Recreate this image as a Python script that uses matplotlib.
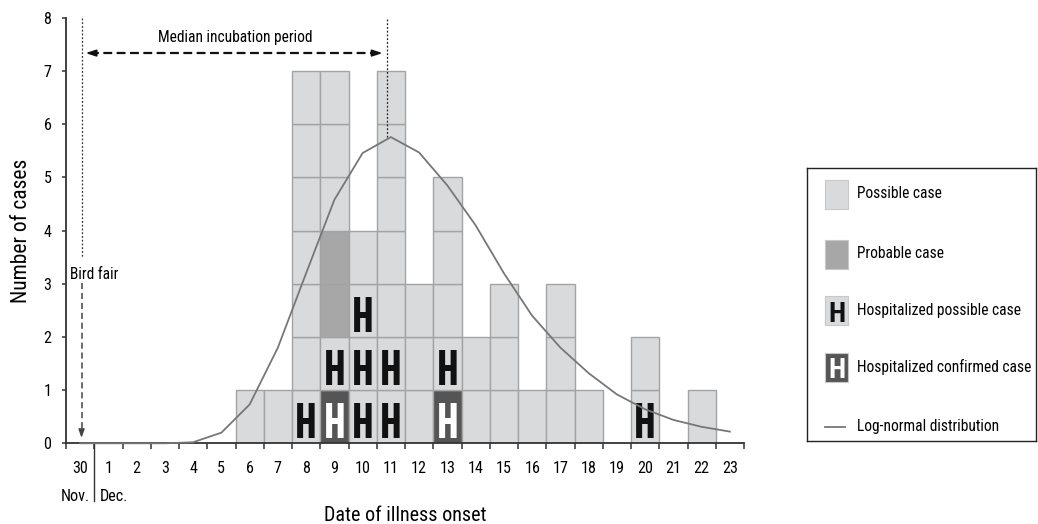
import matplotlib
matplotlib.use('Agg')
import matplotlib.pyplot as plt
from matplotlib.patches import Rectangle
import matplotlib.transforms as mtrans

# ---------------- data ----------------
days = ['30', '1', '2', '3', '4', '5', '6', '7', '8', '9', '10', '11',
        '12', '13', '14', '15', '16', '17', '18', '19', '20', '21', '22', '23']
# stacked from bottom: hospitalized confirmed, hospitalized possible, probable, possible
hosp_confirmed = [0, 0, 0, 0, 0, 0, 0, 0, 0, 1, 0, 0, 0, 1, 0, 0, 0, 0, 0, 0, 0, 0, 0, 0]
hosp_possible  = [0, 0, 0, 0, 0, 0, 0, 0, 1, 1, 3, 2, 0, 1, 0, 0, 0, 0, 0, 0, 1, 0, 0, 0]
probable       = [0, 0, 0, 0, 0, 0, 0, 0, 0, 2, 0, 0, 0, 0, 0, 0, 0, 0, 0, 0, 0, 0, 0, 0]
possible       = [0, 0, 0, 0, 0, 0, 1, 1, 6, 3, 1, 5, 3, 3, 2, 3, 1, 3, 1, 0, 1, 0, 1, 0]
lognormal      = [0.0, 0.0, 0.0, 0.0, 0.02, 0.20, 0.73, 1.80, 3.20, 4.58, 5.46, 5.76,
                  5.47, 4.85, 4.10, 3.20, 2.40, 1.80, 1.32, 0.92, 0.64, 0.44, 0.31, 0.22]
y_ticks = [0, 1, 2, 3, 4, 5, 6, 7, 8]
bird_fair_pos = 0.55      # position of bird fair (day 30)
median_onset_pos = 11.35  # median onset position

# ---------------- fonts ----------------
FONTS = ['Roboto Condensed', 'Archivo Narrow', 'Liberation Sans', 'DejaVu Sans']
HFONTS = ['Saira ExtraCondensed', 'Sofia Sans Extra Condensed', 'Fira Sans Extra Condensed',
          'Roboto Condensed', 'Liberation Sans', 'DejaVu Sans']
plt.rcParams['font.family'] = FONTS

C_POSS = '#d9dadc'
C_PROB = '#a7a7a7'
C_CONF = '#555555'
C_EDGE = '#a3a3a3'
C_AX = '#333333'
FS = 11.2     # annotation / legend text
FT = 11.6     # tick labels

fig = plt.figure(figsize=(10.38, 5.24), dpi=100)
ax = fig.add_axes([66 / 1038, 1 - 443.3 / 524, (744 - 66) / 1038, (443.3 - 18) / 524])

# ---------------- stacked unit cells ----------------
layers = [(hosp_confirmed, C_CONF, 'white'),
          (hosp_possible, C_POSS, '#111111'),
          (probable, C_PROB, None),
          (possible, C_POSS, None)]
for i in range(len(days)):
    bottom = 0
    for counts, fc, hcol in layers:
        for _ in range(counts[i]):
            ax.bar(i + 0.5, 1, bottom=bottom, width=1, color=fc,
                   edgecolor=C_EDGE, linewidth=1.0, zorder=2)
            if hcol is not None:
                ax.text(i + 0.5, bottom + 0.45, 'H', ha='center', va='center_baseline',
                        fontsize=36, fontweight='bold', color=hcol,
                        family=HFONTS, zorder=4)
            bottom += 1

# ---------------- log-normal curve ----------------
xs = [i + 0.5 for i in range(len(days))]
ax.plot(xs, lognormal, color='#777777', lw=1.3, zorder=5, clip_on=False)

# ---------------- axes ----------------
ax.set_xlim(0, len(days))
ax.set_ylim(0, 8)
for s in ['top', 'right']:
    ax.spines[s].set_visible(False)
for s in ['left', 'bottom']:
    ax.spines[s].set_color(C_AX)
    ax.spines[s].set_linewidth(1.3)
ax.set_yticks(y_ticks)
ax.set_yticklabels([str(v) for v in y_ticks])
ax.tick_params(axis='y', direction='out', length=3, width=1.1, color=C_AX,
               pad=7.5, labelsize=FT)
ax.set_xticks(range(len(days) + 1))
ax.set_xticklabels([])
ax.set_xticks(xs, minor=True)
ax.set_xticklabels(days, minor=True)
ax.tick_params(axis='x', which='major', direction='out', length=4, width=1.1, color=C_AX)
ax.tick_params(axis='x', which='minor', length=0, pad=12.5, labelsize=FT)

ax.set_ylabel('Number of cases', fontsize=15.5, labelpad=8)
ax.text(0.50, -0.17, 'Date of illness onset', transform=ax.transAxes,
        ha='center', va='center', fontsize=14.5)

# Nov / Dec separator
tr = mtrans.blended_transform_factory(ax.transData, ax.transAxes)
ax.plot([1, 1], [0, -0.135], transform=tr, color=C_AX, lw=1.0, clip_on=False)
ax.text(0.85, -0.125, 'Nov.', transform=tr, ha='right', va='center', fontsize=FT)
ax.text(1.2, -0.125, 'Dec.', transform=tr, ha='left', va='center', fontsize=FT)

# ---------------- annotations ----------------
ax.plot([bird_fair_pos, bird_fair_pos], [8, 3.5], color='#333333', lw=0.9,
        ls=(0, (1.5, 1.5)), zorder=6, clip_on=False)
ax.plot([bird_fair_pos, bird_fair_pos], [3.02, 0.25], color='#444444', lw=1.1,
        ls=(0, (4, 2.5)), zorder=6)
ax.annotate('', xy=(bird_fair_pos, 0.05), xytext=(bird_fair_pos, 0.3),
            arrowprops=dict(arrowstyle='-|>,head_length=0.5,head_width=0.18',
                            color='#444444', lw=1.0), zorder=6)
ax.text(0.14, 3.17, 'Bird fair', ha='left', va='center', fontsize=FS, zorder=7)

ax.plot([median_onset_pos, median_onset_pos], [7.98, 5.77], color='#222222', lw=0.9,
        ls=(0, (1.5, 1.5)), zorder=6, clip_on=False)
y_arr = 7.34
ax.plot([bird_fair_pos + 0.3, median_onset_pos - 0.3], [y_arr, y_arr], color='#111111',
        lw=1.6, ls=(0, (4, 2)), zorder=6)
ax.annotate('', xy=(bird_fair_pos + 0.05, y_arr), xytext=(bird_fair_pos + 0.5, y_arr),
            arrowprops=dict(arrowstyle='-|>,head_length=0.6,head_width=0.2',
                            color='#111111', lw=1.2), zorder=6)
ax.annotate('', xy=(median_onset_pos - 0.05, y_arr), xytext=(median_onset_pos - 0.5, y_arr),
            arrowprops=dict(arrowstyle='-|>,head_length=0.6,head_width=0.2',
                            color='#111111', lw=1.2), zorder=6)
ax.text(5.98, 7.64, 'Median incubation period', ha='center', va='center',
        fontsize=FS, zorder=7)

# ---------------- legend (drawn box) ----------------
lax = fig.add_axes([807 / 1038, 1 - 441 / 524, 229 / 1038, 273 / 524])
lax.set_xlim(0, 229)
lax.set_ylim(273, 0)
lax.set_xticks([])
lax.set_yticks([])
for s in lax.spines.values():
    s.set_color('#222222')
    s.set_linewidth(1.0)

items = [('Possible case', C_POSS, None, 26),
         ('Probable case', C_PROB, None, 86),
         ('Hospitalized possible case', C_POSS, '#111111', 142),
         ('Hospitalized confirmed case', C_CONF, 'white', 199)]
for label, fc, hcol, yc in items:
    lax.add_patch(Rectangle((18, yc - 14), 23, 29, facecolor=fc, edgecolor='#c8c8c8', lw=0.8))
    if hcol is not None:
        lax.text(29.5, yc + 1, 'H', ha='center', va='center_baseline', fontsize=20,
                 fontweight='bold', color=hcol,
                 family=['Roboto Condensed', 'Liberation Sans', 'DejaVu Sans'])
    lax.text(50, yc, label, ha='left', va='center', fontsize=FS)
lax.plot([18, 38], [259, 259], color='#777777', lw=1.3)
lax.text(50, 259, 'Log-normal distribution', ha='left', va='center', fontsize=FS)

fig.savefig('out.png', dpi=100)
